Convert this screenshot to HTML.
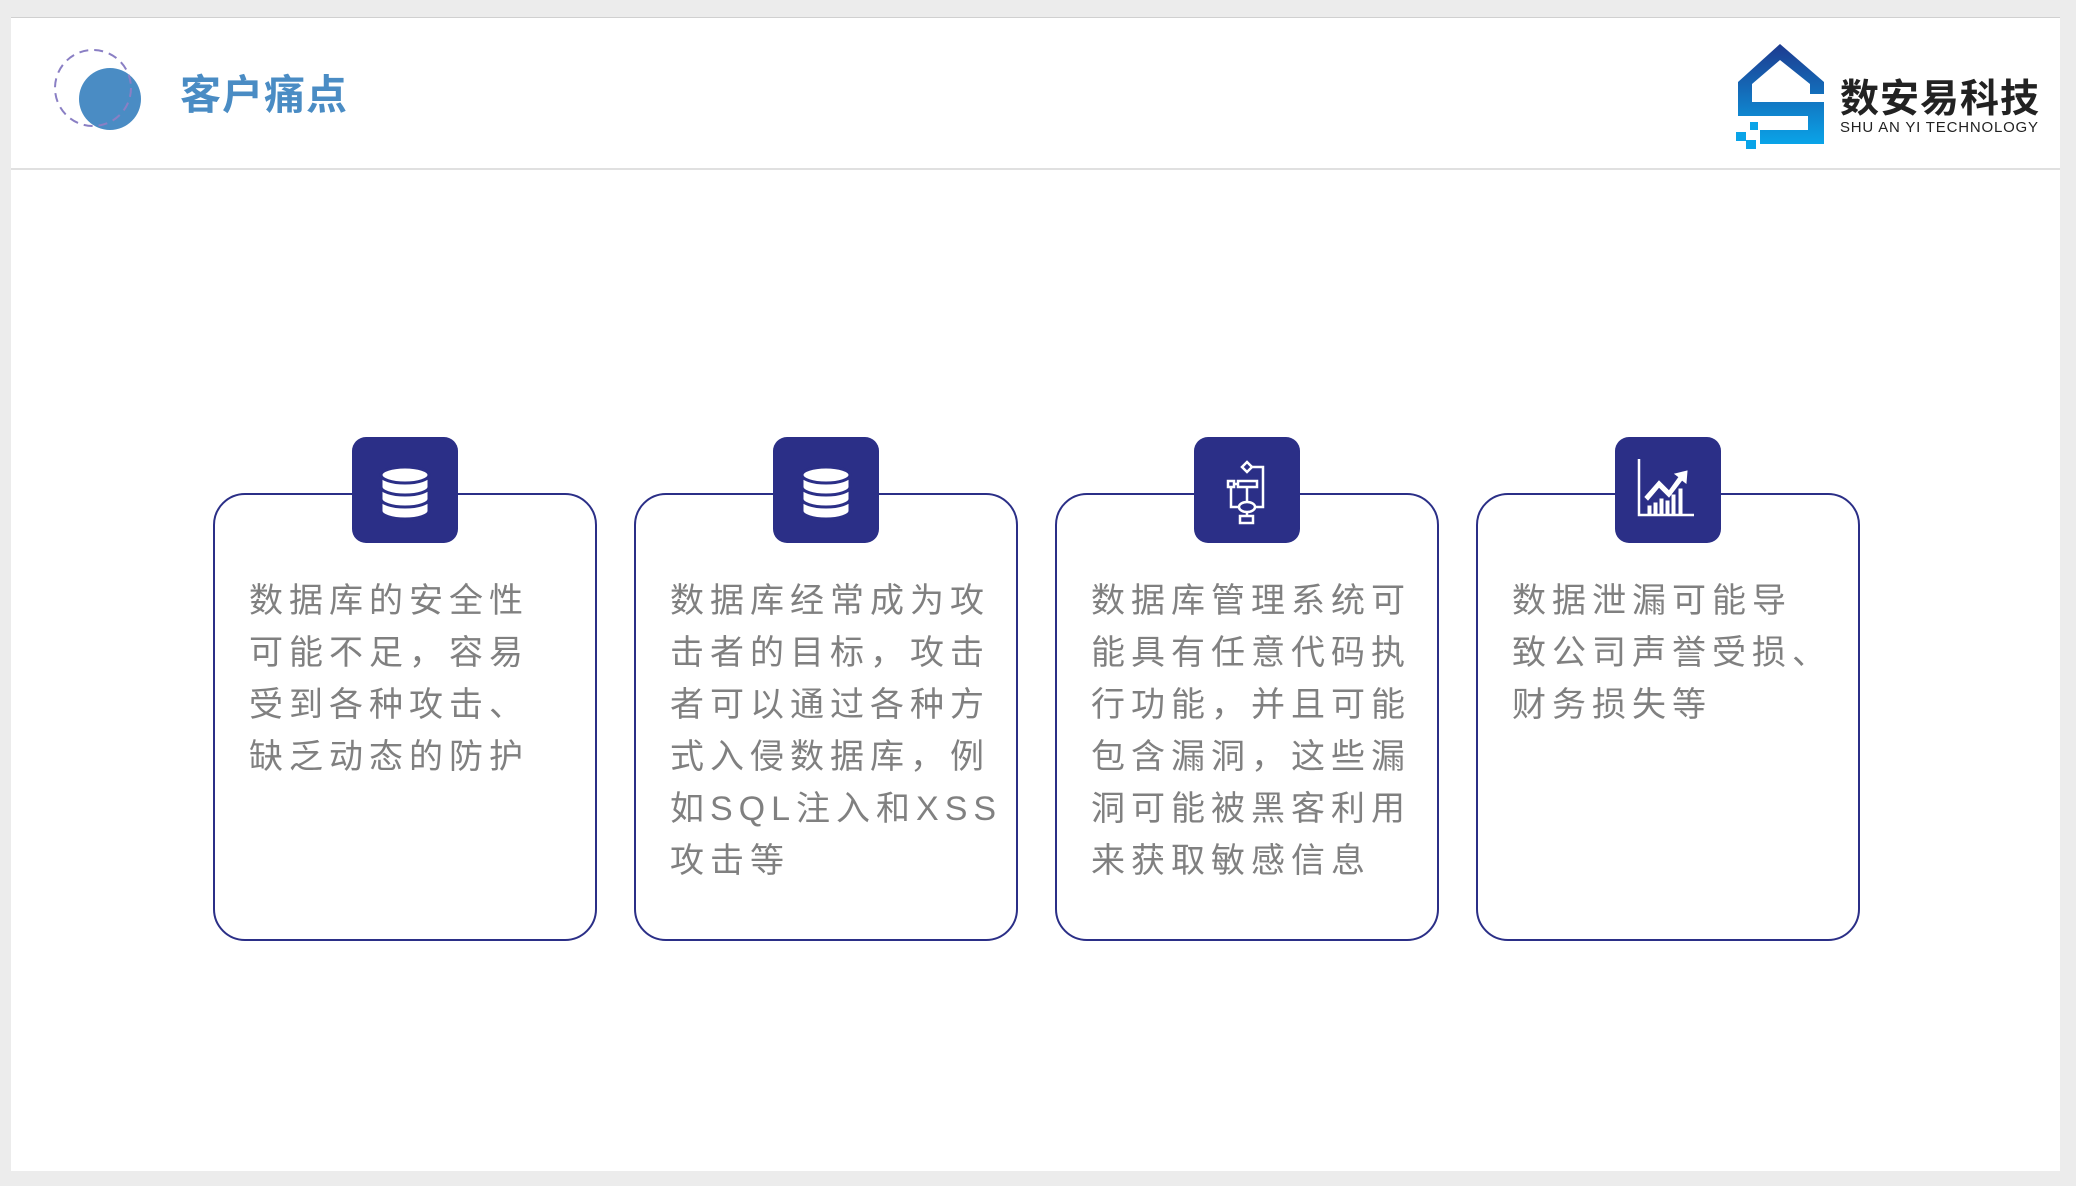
<!DOCTYPE html>
<html><head><meta charset="utf-8"><style>
body{margin:0;width:2076px;height:1186px;background:#ececec;position:relative;overflow:hidden;font-family:"Liberation Sans","Noto Sans CJK SC",sans-serif}
.slide{position:absolute;left:11px;top:17px;width:2049px;height:1153px;background:#fff;border-top:1px solid #d0d0d0}
.hl{position:absolute;left:11px;top:168px;width:2049px;height:2px;background:#e0e0e0}
.card{position:absolute;top:493px;width:384px;height:448px;border:2px solid #2b2f87;border-radius:32px;box-sizing:border-box}
.ib{position:absolute;top:437px;width:106px;height:106px;background:#2b2f87;border-radius:14px}
.ib svg{position:absolute;left:0;top:0}
.t{position:absolute;top:575px;font-size:34px;letter-spacing:6px;line-height:52px;color:#808080;white-space:nowrap}
</style></head><body>
<div class="slide"></div>
<div class="hl"></div>
<svg style="position:absolute;left:50px;top:45px" width="95" height="90">
<circle cx="60" cy="54" r="31" fill="#4a8cc4"/>
<circle cx="43" cy="43" r="38" fill="none" stroke="#8a7fc4" stroke-width="2" stroke-dasharray="9 6"/>
</svg>
<div style="position:absolute;left:180px;top:61px;font-size:41px;font-weight:bold;color:#4a8cc4;letter-spacing:1px">客户痛点</div>
<svg style="position:absolute;left:1736px;top:42px" width="90" height="108">
<defs><linearGradient id="g" x1="0" y1="0" x2="0" y2="1"><stop offset="0" stop-color="#1d3a8f"/><stop offset="1" stop-color="#0aa4e8"/></linearGradient></defs>
<path d="M2 40 L44 2 L88 40 L88 52 L74 52 L74 42 L44 18 L16 42 L16 60 L88 60 L88 102 L24 102 L24 88 L72 88 L72 74 L2 74 Z" fill="url(#g)"/>
<rect x="0" y="90" width="10" height="9" fill="#0aa4e8"/><rect x="10" y="98" width="10" height="9" fill="#0aa4e8"/><rect x="14" y="80" width="8" height="8" fill="#0aa4e8"/>
</svg>
<div style="position:absolute;left:1840px;top:78px;font-size:39px;line-height:44px;font-weight:bold;color:#222;letter-spacing:1px">数安易科技</div>
<div style="position:absolute;left:1840px;top:119px;font-size:15px;color:#222;letter-spacing:0.8px">SHU AN YI TECHNOLOGY</div>

<div class="card" style="left:213px"></div>
<div class="card" style="left:634px"></div>
<div class="card" style="left:1055px"></div>
<div class="card" style="left:1476px"></div>

<div class="ib" style="left:352px"><svg width="106" height="106"><g fill="#fff" stroke="#2b2f87" stroke-width="3"><path d="M29 62v12a24 8 0 0 0 48 0v-12z"/><path d="M29 50v12a24 8 0 0 0 48 0v-12z"/><path d="M29 38v12a24 8 0 0 0 48 0v-12z"/><ellipse cx="53" cy="38" rx="24" ry="8"/></g></svg></div>
<div class="ib" style="left:773px"><svg width="106" height="106"><g fill="#fff" stroke="#2b2f87" stroke-width="3"><path d="M29 62v12a24 8 0 0 0 48 0v-12z"/><path d="M29 50v12a24 8 0 0 0 48 0v-12z"/><path d="M29 38v12a24 8 0 0 0 48 0v-12z"/><ellipse cx="53" cy="38" rx="24" ry="8"/></g></svg></div>
<div class="ib" style="left:1194px"><svg width="106" height="106"><g fill="none" stroke="#fff" stroke-width="2.5"><path d="M53 25l5 5-5 5-5-5z"/><path d="M58 30h11v40h-8"/><rect x="44" y="44" width="19" height="6"/><rect x="34" y="44" width="6" height="6"/><path d="M40 47h4M37 50v20h8"/><ellipse cx="53" cy="70" rx="8" ry="5"/><path d="M53 50v15M53 75v4"/><rect x="46" y="79" width="13" height="7"/></g></svg></div>
<div class="ib" style="left:1615px"><svg width="106" height="106"><g fill="#fff" stroke="#fff"><path d="M24 22v56h55" fill="none" stroke-width="2.5"/><path d="M30 60l14-16 10 10 10-14 -4-3 12-3-1 12-4-3-13 17-10-10-11 13z" stroke-width="1"/><rect x="33" y="69" width="3" height="8"/><rect x="39" y="66" width="3" height="11"/><rect x="45" y="62" width="3" height="15"/><rect x="51" y="64" width="3" height="13"/><rect x="57" y="58" width="3" height="19"/><rect x="64" y="52" width="3" height="25"/></g></svg></div>

<div class="t" style="left:249px">数据库的安全性<br>可能不足，容易<br>受到各种攻击、<br>缺乏动态的防护</div>
<div class="t" style="left:670px">数据库经常成为攻<br>击者的目标，攻击<br>者可以通过各种方<br>式入侵数据库，例<br>如SQL注入和XSS<br>攻击等</div>
<div class="t" style="left:1091px">数据库管理系统可<br>能具有任意代码执<br>行功能，并且可能<br>包含漏洞，这些漏<br>洞可能被黑客利用<br>来获取敏感信息</div>
<div class="t" style="left:1512px">数据泄漏可能导<br>致公司声誉受损、<br>财务损失等</div>
</body></html>
